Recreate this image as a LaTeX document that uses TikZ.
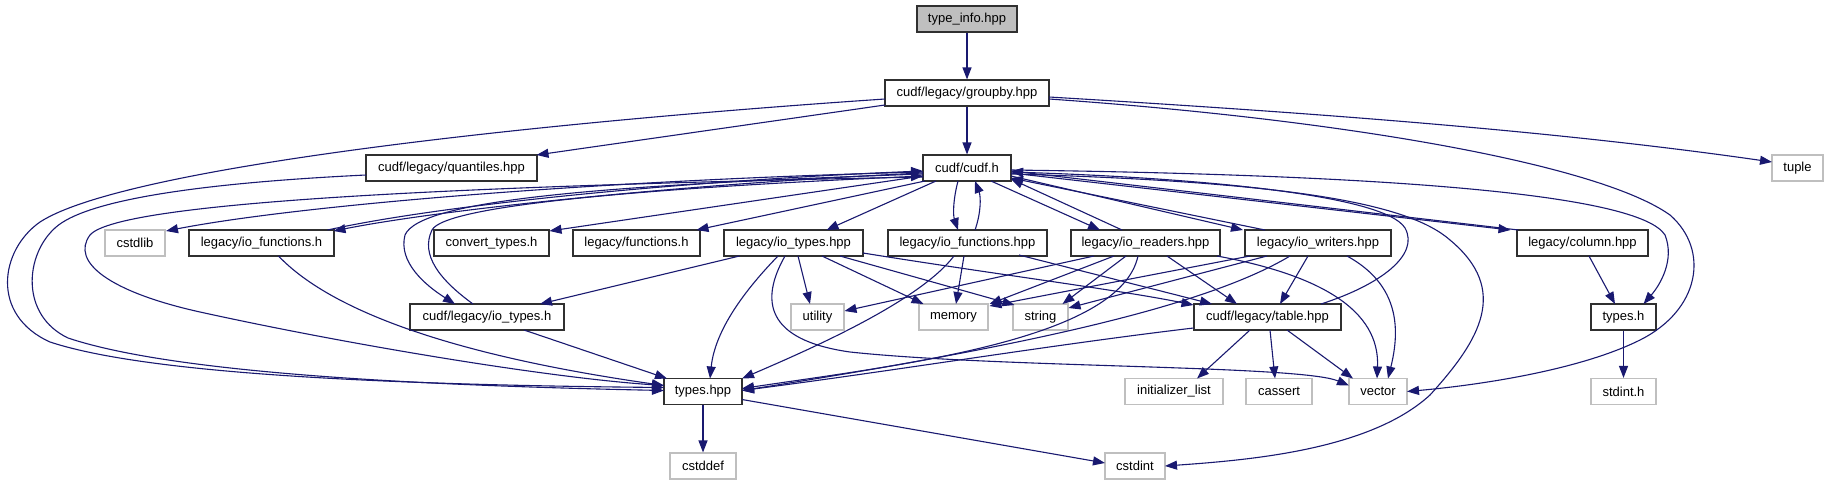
\documentclass[tikz,border=0pt]{standalone}
\usepackage{fontspec}
\setmainfont{Liberation Sans}
\usetikzlibrary{arrows.meta,calc}
\definecolor{edgeblue}{HTML}{191970}
\definecolor{extgray}{HTML}{BFBFBF}
\definecolor{boxline}{HTML}{303030}
\begin{document}
\begin{tikzpicture}[x=1pt,y=-1pt,
  box/.style={draw=boxline,line width=1.1pt,rectangle,minimum height=26pt,inner sep=0pt,
    font=\fontsize{13}{15}\selectfont,fill=white},
  ext/.style={box,draw=extgray},
  edge/.style={draw=edgeblue,line width=1.1pt,-{Triangle[length=12pt,width=9pt]}}]
\useasboundingbox (0,0) rectangle (1829,485);
\fill[white] (0,0) rectangle (1829,485);
% ---------- nodes ----------
\node[box,minimum width=100pt,fill=extgray] (ti) at (967,19) {type\_info.hpp};
\node[box,minimum width=164pt] (gb) at (967,93) {cudf/legacy/groupby.hpp};
\node[box,minimum width=88pt] (cu) at (967,168) {cudf/cudf.h};
\node[box,minimum width=171pt] (qu) at (451.5,168) {cudf/legacy/quantiles.hpp};
\node[ext,minimum width=51pt] (tu) at (1797.5,168) {tuple};
\node[ext,minimum width=60pt] (csl) at (135,243) {cstdlib};
\node[box,minimum width=145pt] (iofh) at (261.5,243) {legacy/io\_functions.h};
\node[box,minimum width=115pt] (ct) at (491.5,243) {convert\_types.h};
\node[box,minimum width=127pt] (fn) at (636.5,243) {legacy/functions.h};
\node[box,minimum width=139pt] (iot) at (793.5,243) {legacy/io\_types.hpp};
\node[box,minimum width=159pt] (iofp) at (967.5,243) {legacy/io\_functions.hpp};
\node[box,minimum width=149pt] (ior) at (1145.5,243) {legacy/io\_readers.hpp};
\node[box,minimum width=146pt] (iow) at (1318,243) {legacy/io\_writers.hpp};
\node[box,minimum width=131pt] (col) at (1582.5,243) {legacy/column.hpp};
\node[box,minimum width=154pt] (ioth) at (487,317) {cudf/legacy/io\_types.h};
\node[ext,minimum width=53pt] (ut) at (817.5,317) {utility};
\node[ext,minimum width=69pt] (mem) at (953.5,317) {memory};
\node[ext,minimum width=55pt] (str) at (1040.5,317) {string};
\node[box,minimum width=147pt] (tab) at (1267.5,317) {cudf/legacy/table.hpp};
\node[box,minimum width=65pt] (th) at (1623.5,317) {types.h};
\node[box,minimum width=78pt] (tp) at (703,391.5) {types.hpp};
\node[ext,minimum width=98pt] (il) at (1174,391.5) {initializer\_list};
\node[ext,minimum width=66pt] (ca) at (1279,391.5) {cassert};
\node[ext,minimum width=58pt] (ve) at (1378,391.5) {vector};
\node[ext,minimum width=65pt] (sd) at (1623.5,391.5) {stdint.h};
\node[ext,minimum width=66pt] (cdf) at (703,466) {cstddef};
\node[ext,minimum width=60pt] (cin) at (1135,466) {cstdint};
% ---------- edges ----------
\draw[edge] (ti) -- (gb);
\draw[edge] (gb) -- (cu);
\draw[edge] ($(gb)+(-82,12)$) -- ($(qu)+(85,-13)$);
\draw[edge] ($(gb)+(-82,6)$) .. controls (500,125) and (120,170) .. (40,222)
  .. controls (0,250) and (-10,315) .. (50,342)
  .. controls (150,375) and (400,385) .. ($(tp)+(-39,-4)$);
\draw[edge] ($(qu)+(-85.5,7)$) .. controls (200,183) and (85,200) .. (55,228)
  .. controls (25,255) and (20,315) .. (68,338)
  .. controls (170,372) and (400,385) .. ($(tp)+(-39,-1)$);
\draw[edge] ($(cu)+(-44,9)$) .. controls (500,185) and (120,200) .. (90,235)
  .. controls (70,262) and (110,292) .. (200,312)
  .. controls (350,345) and (550,378) .. ($(tp)+(-39,-6)$);
\draw[edge] ($(iofh)+(17,13)$) .. controls (330,310) and (450,355) .. ($(tp)+(-39,-6)$);
\draw[edge] ($(ioth)+(37,13)$) -- ($(tp)+(-36,-13)$);
\draw[edge] ($(cu)+(-44,6)$) .. controls (600,185) and (420,200) .. (405,235)
  .. controls (398,262) and (425,285) .. ($(ioth)+(-32,-13)$);
\draw[edge] ($(ioth)+(-14,-13)$) .. controls (440,280) and (420,255) .. (432,230)
  .. controls (445,205) and (650,188) .. ($(cu)+(-44,8)$);
\draw[edge] ($(cu)+(-44,4)$) .. controls (600,180) and (300,205) .. ($(csl)+(31,-12)$);
\draw[edge] ($(cu)+(-44,5)$) .. controls (700,183) and (450,208) .. ($(iofh)+(72,-12)$);
\draw[edge] ($(iofh)+(66,-13)$) .. controls (450,203) and (700,180) .. ($(cu)+(-44,3)$);
\draw[edge] ($(cu)+(-44,8)$) -- ($(ct)+(58,-12)$);
\draw[edge] ($(cu)+(-42,13)$) -- ($(fn)+(60,-13)$);
\draw[edge] ($(cu)+(-31,13)$) -- ($(iot)+(33,-13)$);
\draw[edge] ($(cu)+(-9,13)$) .. controls (953,200) and (953,215) .. ($(iofp)+(-9.5,-13)$);
\draw[edge] ($(iofp)+(7.5,-13)$) .. controls (981,213) and (981,197) .. ($(cu)+(8,13)$);
\draw[edge] ($(cu)+(24,13)$) -- ($(ior)+(-45.5,-13)$);
\draw[edge] ($(ior)+(-23.5,-13)$) -- ($(cu)+(44,11)$);
\draw[edge] ($(cu)+(44,8)$) -- ($(iow)+(-75,-13)$);
\draw[edge] ($(iow)+(-53,-13)$) -- ($(cu)+(44,10)$);
\draw[edge] ($(cu)+(44,5)$) -- ($(col)+(-72,-13)$);
\draw[edge] ($(col)+(-64,-13)$) -- ($(cu)+(44,3)$);
\draw[edge] ($(cu)+(44,2)$) .. controls (1400,175) and (1640,195) .. (1665,235)
  .. controls (1675,260) and (1660,285) .. ($(th)+(20,-13)$);
\draw[edge] ($(cu)+(44,6)$) .. controls (1300,182) and (1410,205) .. (1450,240)
  .. controls (1510,290) and (1480,340) .. (1430,395)
  .. controls (1370,450) and (1250,460) .. ($(cin)+(30,0)$);
\draw[edge] ($(tab)+(53.5,-13)$) .. controls (1380,285) and (1420,255) .. (1405,228)
  .. controls (1385,195) and (1200,178) .. ($(cu)+(44,4)$);
\draw[edge] ($(gb)+(82,4)$) .. controls (1300,112) and (1550,130) .. ($(tu)+(-25.5,-6)$);
\draw[edge] ($(gb)+(82,6)$) .. controls (1350,120) and (1600,165) .. (1670,215)
  .. controls (1710,250) and (1700,310) .. (1640,340)
  .. controls (1580,370) and (1480,385) .. ($(ve)+(29,0)$);
% legacy/io_types.hpp
\draw[edge] ($(iot)+(-54,13)$) -- ($(ioth)+(53,-13)$);
\draw[edge] ($(iot)+(-15.5,13)$) .. controls (745,290) and (715,330) .. ($(tp)+(7,-13)$);
\draw[edge] ($(iot)+(4.5,13)$) -- ($(ut)+(-7.5,-13)$);
\draw[edge] ($(iot)+(28.5,13)$) -- ($(mem)+(-30,-13)$);
\draw[edge] ($(iot)+(46.5,13)$) -- ($(str)+(-26,-12)$);
\draw[edge] ($(iot)+(69.5,10)$) .. controls (1000,275) and (1120,290) .. ($(tab)+(-74,-12)$);
\draw[edge] ($(iot)+(-8.5,13)$) .. controls (760,300) and (765,340) .. (850,352)
  .. controls (1000,368) and (1300,365) .. ($(ve)+(-29,-6)$);
% legacy/io_functions.hpp
\draw[edge] ($(iofp)+(-3.5,13)$) -- ($(mem)+(2.5,-13)$);
\draw[edge] ($(iofp)+(-13.5,13)$) .. controls (920,300) and (820,345) .. ($(tp)+(39,-13)$);
\draw[edge] ($(iofp)+(51.5,12)$) -- ($(tab)+(-55.5,-13)$);
% legacy/io_readers.hpp
\draw[edge] ($(ior)+(-51.5,13)$) -- ($(ut)+(27,-6)$);
\draw[edge] ($(ior)+(-31.5,13)$) -- ($(mem)+(36,-13)$);
\draw[edge] ($(ior)+(-19.5,13)$) -- ($(str)+(22,-13)$);
\draw[edge] ($(ior)+(-7.5,13)$) .. controls (1120,340) and (900,365) .. ($(tp)+(39,-3)$);
\draw[edge] ($(ior)+(21.5,13)$) -- ($(tab)+(-30.5,-13)$);
\draw[edge] ($(ior)+(71.5,13)$) .. controls (1320,275) and (1380,310) .. ($(ve)+(-1,-13)$);
% legacy/io_writers.hpp
\draw[edge] ($(iow)+(-68,13)$) -- ($(mem)+(36,-11)$);
\draw[edge] ($(iow)+(-51,13)$) -- ($(str)+(28,-9)$);
\draw[edge] ($(iow)+(-28,13)$) .. controls (1200,310) and (1000,350) .. ($(tp)+(39,-1)$);
\draw[edge] ($(iow)+(-10,13)$) -- ($(tab)+(12.5,-13)$);
\draw[edge] ($(iow)+(29,13)$) .. controls (1400,285) and (1400,330) .. ($(ve)+(10,-13)$);
% cudf/legacy/table.hpp
\draw[edge] ($(tab)+(-74,11)$) .. controls (1050,345) and (900,370) .. ($(tp)+(39,-1)$);
\draw[edge] ($(tab)+(-17.5,13)$) -- ($(il)+(23,-13)$);
\draw[edge] ($(tab)+(2.5,13)$) -- ($(ca)+(-4,-13)$);
\draw[edge] ($(tab)+(19.5,13)$) -- ($(ve)+(-25,-13)$);
% types.hpp, column, types.h
\draw[edge] (tp) -- (cdf);
\draw[edge] ($(tp)+(39,8)$) -- ($(cin)+(-30,-3)$);
\draw[edge] ($(col)+(6.5,13)$) -- ($(th)+(-8.5,-13)$);
\draw[edge] (th) -- (sd);
\end{tikzpicture}
\end{document}
